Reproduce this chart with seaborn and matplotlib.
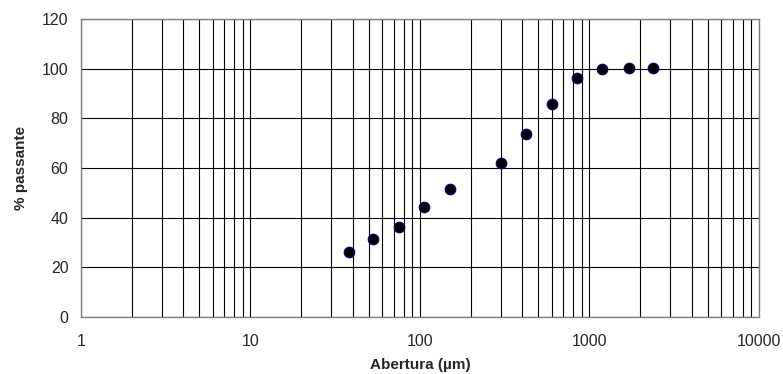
import matplotlib
matplotlib.use("Agg")
import matplotlib.pyplot as plt
import seaborn as sns
import pandas as pd
from matplotlib.ticker import LogLocator, FixedLocator, NullFormatter, FuncFormatter

# sieve opening (µm) and cumulative % passing
abertura = [38, 53, 75, 106, 150, 300, 425, 600, 850, 1180, 1700, 2360]
passante = [26.0, 31.5, 36.2, 44.2, 51.5, 62.1, 73.6, 85.8, 96.2, 100.0, 100.3, 100.3]

df = pd.DataFrame({"abertura": abertura, "passante": passante})

sns.set_style("white")
plt.rcParams['font.family'] = ['Liberation Sans', 'DejaVu Sans']

fig = plt.figure(figsize=(7.83, 3.74), dpi=100)
ax = fig.add_axes([0.1034, 0.1524, 0.8659, 0.7968])

sns.scatterplot(data=df, x="abertura", y="passante", ax=ax,
                color="black", edgecolor="#000080", linewidth=0.8, s=58, zorder=3)

ax.set_xscale("log")
ax.set_xlim(1, 10000)
ax.set_ylim(0, 120)
ax.set_yticks(range(0, 121, 20))
ax.xaxis.set_major_locator(FixedLocator([1, 10, 100, 1000, 10000]))
ax.xaxis.set_major_formatter(FuncFormatter(lambda v, p: f"{int(v)}"))
ax.xaxis.set_minor_locator(LogLocator(base=10, subs=range(2, 10)))
ax.xaxis.set_minor_formatter(NullFormatter())

ax.grid(True, which="both", axis="x", color="black", linewidth=0.8)
ax.grid(True, which="major", axis="y", color="black", linewidth=0.8)

for s in ax.spines.values():
    s.set_color("#808080")
    s.set_linewidth(1.0)

ax.tick_params(axis="both", which="major", direction="out", length=4, width=1,
               color="#808080", labelsize=11.5)
ax.tick_params(axis="x", which="major", pad=8)
ax.tick_params(axis="y", which="major", pad=5)
ax.tick_params(axis="x", which="minor", length=0)

ax.set_xlabel("Abertura (µm)", fontsize=11, fontweight="bold", labelpad=7)
ax.set_ylabel("% passante", fontsize=11, fontweight="bold", labelpad=10)

fig.savefig("out.png", dpi=100)
